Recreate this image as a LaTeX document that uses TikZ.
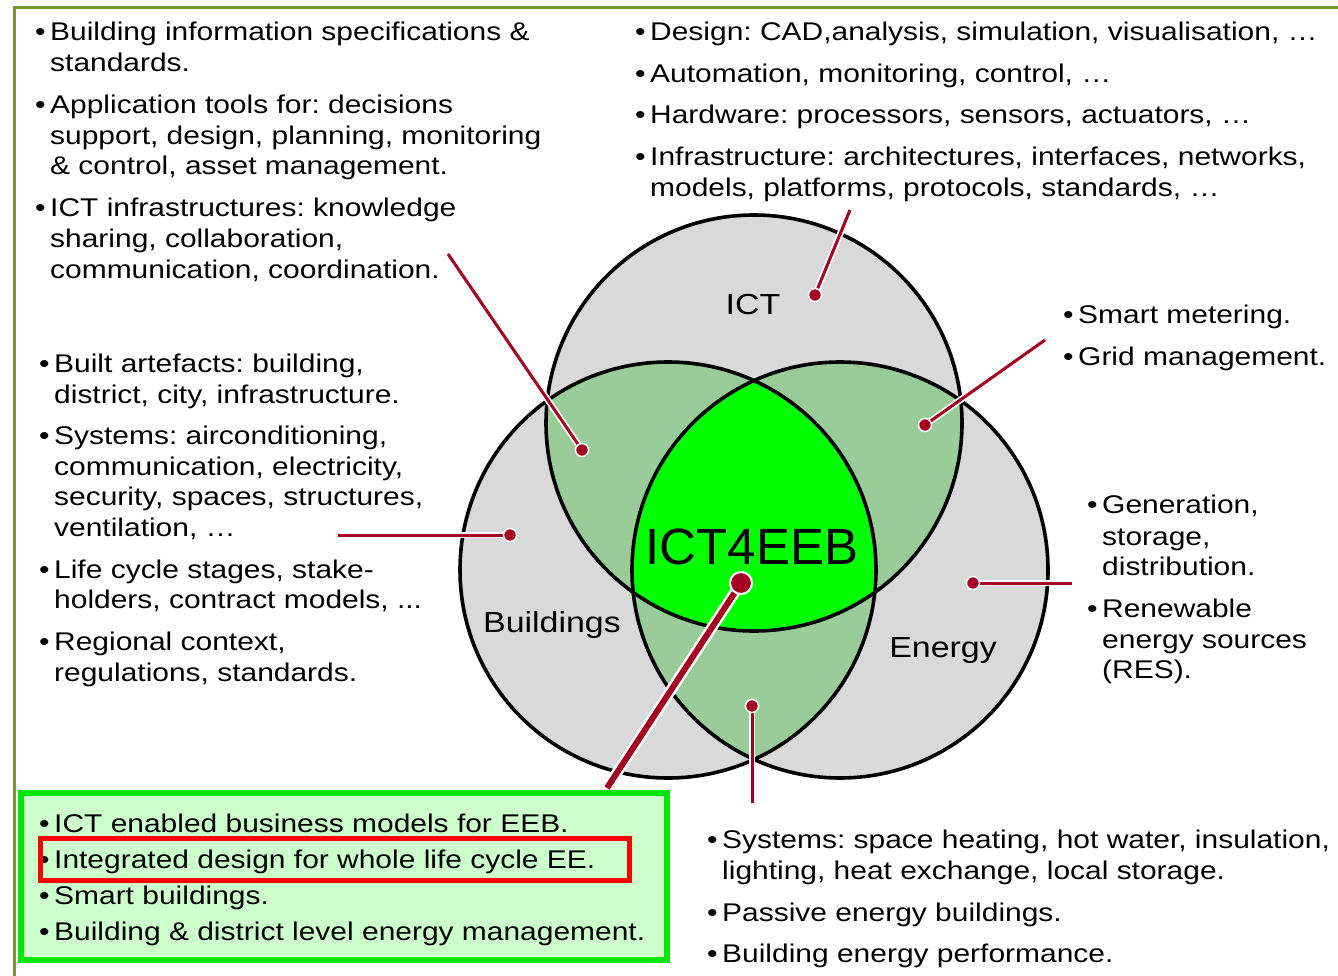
\documentclass[tikz,border=0pt]{standalone}
\usepackage{fontspec}
\setmainfont{Liberation Sans}[FakeStretch=1.17]
\newfontfamily\plainsans{Liberation Sans}
\definecolor{frameol}{RGB}{119,147,60}
\definecolor{greyc}{RGB}{217,217,217}
\definecolor{lgreen}{RGB}{153,204,153}
\definecolor{bgreen}{RGB}{0,255,0}
\definecolor{dred}{RGB}{165,0,33}
\definecolor{boxfill}{RGB}{204,255,204}
\definecolor{boxline}{RGB}{0,230,0}
\newcommand\bul{\llap{\textbullet\hspace{4.5pt}}}
\tikzset{
  txt/.style={anchor=base west, inner sep=0pt, font=\fontsize{25.6}{30}\selectfont},
  btxt/.style={anchor=base west, inner sep=0pt, font=\fontsize{25.6}{30}\selectfont},
  lbl/.style={anchor=base, inner sep=0pt, font=\fontsize{29}{32}\selectfont},
  ring/.style={draw=black, line width=3.6pt},
  conn/.style={draw=dred, line width=3pt, preaction={draw=white, line width=6.5pt}},
  thickconn/.style={draw=dred, line width=6pt, preaction={draw=white, line width=11pt}},
  dot/.style={circle, fill=dred, draw=white, line width=1.5pt, inner sep=0pt, minimum size=13pt},
  bigdot/.style={circle, fill=dred, draw=white, line width=2pt, inner sep=0pt, minimum size=22pt},
}
\begin{document}
\frenchspacing
\begin{tikzpicture}[x=1pt,y=-1pt]
\useasboundingbox (0,0) rectangle (1338,976);
% frame
\draw[frameol, line width=3.5pt] (14.5,980) -- (14.5,7.5) -- (1345,7.5);
% circles
\coordinate (I) at (754,423);
\coordinate (B) at (668,570);
\coordinate (E) at (840,570);
\fill[greyc] (I) circle (208pt);
\fill[greyc] (B) circle (208pt);
\fill[greyc] (E) circle (208pt);
\begin{scope}
  \clip (I) circle (208pt);
  \fill[lgreen] (B) circle (208pt);
  \fill[lgreen] (E) circle (208pt);
\end{scope}
\begin{scope}
  \clip (B) circle (208pt);
  \fill[lgreen] (E) circle (208pt);
\end{scope}
\begin{scope}
  \clip (I) circle (208pt);
  \clip (B) circle (208pt);
  \fill[bgreen] (E) circle (208pt);
\end{scope}
\draw[ring] (I) circle (208pt);
\draw[ring] (B) circle (208pt);
\draw[ring] (E) circle (208pt);
% circle labels
\node[lbl] (lict) at (753,314) {ICT};
\node[lbl] (lbld) at (552,632) {Buildings};
\node[lbl] (lene) at (943,657) {Energy};
\node[anchor=base, inner sep=0pt, font=\plainsans\fontsize{51}{54}\selectfont] (lcore) at (752,564) {ICT4EEB};
% green box
\draw[boxline, fill=boxfill, line width=6pt] (21,793) rectangle (667,960);
\node[btxt] (g1) at (54,832) {\bul ICT enabled business models for EEB.};
\node[btxt] (g2) at (54,868) {\bul Integrated design for whole life cycle EE.};
\node[btxt] (g3) at (54,904) {\bul Smart buildings.};
\node[btxt] (g4) at (54,940) {\bul Building \& district level energy management.};
\draw[red, line width=5pt] (40.5,838.5) rectangle (629.5,880.5);
% connectors
\coordinate (s1) at (448,254);
\coordinate (s2) at (850,210);
\coordinate (s3) at (1045,340);
\coordinate (s4) at (338,535);
\coordinate (s5) at (1072,583);
\coordinate (s6) at (752,803);
\coordinate (s7) at (607,788);
\coordinate (e1) at (582,450);
\coordinate (e2) at (815,295);
\coordinate (e3) at (925,425);
\coordinate (e4) at (510,535);
\coordinate (e5) at (973,583);
\coordinate (e6) at (752,706);
\coordinate (e7) at (741,583);
\draw[conn] (s1) -- (e1);
\draw[conn] (s2) -- (e2);
\draw[conn] (s3) -- (e3);
\draw[conn] (s4) -- (e4);
\draw[conn] (s5) -- (e5);
\draw[conn] (s6) -- (e6);
\draw[thickconn] (s7) -- (e7);
\node[dot] (d1) at (e1) {};
\node[dot] (d2) at (e2) {};
\node[dot] (d3) at (e3) {};
\node[dot] (d4) at (e4) {};
\node[dot] (d5) at (e5) {};
\node[dot] (d6) at (e6) {};
\node[bigdot] (d7) at (e7) {};
% top-left text
\node[txt] (a1) at (50,41) {\bul Building information specifications \&};
\node[txt] (a2) at (50,72) {standards.};
\node[txt] (a3) at (50,114) {\bul Application tools for: decisions};
\node[txt] (a4) at (50,145) {support, design, planning, monitoring};
\node[txt] (a5) at (50,175) {\& control, asset management.};
\node[txt] (a6) at (50,217) {\bul ICT infrastructures: knowledge};
\node[txt] (a7) at (50,248) {sharing, collaboration,};
\node[txt] (a8) at (50,279) {communication, coordination.};
% top-right text
\node[txt] (b1) at (650,41) {\bul Design: CAD,analysis, simulation, visualisation, …};
\node[txt] (b2) at (650,83) {\bul Automation, monitoring, control, …};
\node[txt] (b3) at (650,124) {\bul Hardware: processors, sensors, actuators, …};
\node[txt] (b4) at (650,166) {\bul Infrastructure: architectures, interfaces, networks,};
\node[txt] (b5) at (650,197) {models, platforms, protocols, standards, …};
% left middle text
\node[txt] (c1) at (54,372) {\bul Built artefacts: building,};
\node[txt] (c2) at (54,403) {district, city, infrastructure.};
\node[txt] (c3) at (54,444) {\bul Systems: airconditioning,};
\node[txt] (c4) at (54,475) {communication, electricity,};
\node[txt] (c5) at (54,505) {security, spaces, structures,};
\node[txt] (c6) at (54,536) {ventilation, …};
\node[txt] (c7) at (54,578) {\bul Life cycle stages, stake-};
\node[txt] (c8) at (54,608) {holders, contract models, ...};
\node[txt] (c9) at (54,650) {\bul Regional context,};
\node[txt] (c10) at (54,681) {regulations, standards.};
% right text
\node[txt] (r1) at (1078,323) {\bul Smart metering.};
\node[txt] (r2) at (1078,365) {\bul Grid management.};
\node[txt] (r3) at (1102,513) {\bul Generation,};
\node[txt] (r4) at (1102,545) {storage,};
\node[txt] (r5) at (1102,575) {distribution.};
\node[txt] (r6) at (1102,617) {\bul Renewable};
\node[txt] (r7) at (1102,648) {energy sources};
\node[txt] (r8) at (1102,678) {(RES).};
% bottom-right text
\node[txt] (q1) at (722,848) {\bul Systems: space heating, hot water, insulation,};
\node[txt] (q2) at (722,879) {lighting, heat exchange, local storage.};
\node[txt] (q3) at (722,921) {\bul Passive energy buildings.};
\node[txt] (q4) at (722,962) {\bul Building energy performance.};
\end{tikzpicture}
\end{document}
